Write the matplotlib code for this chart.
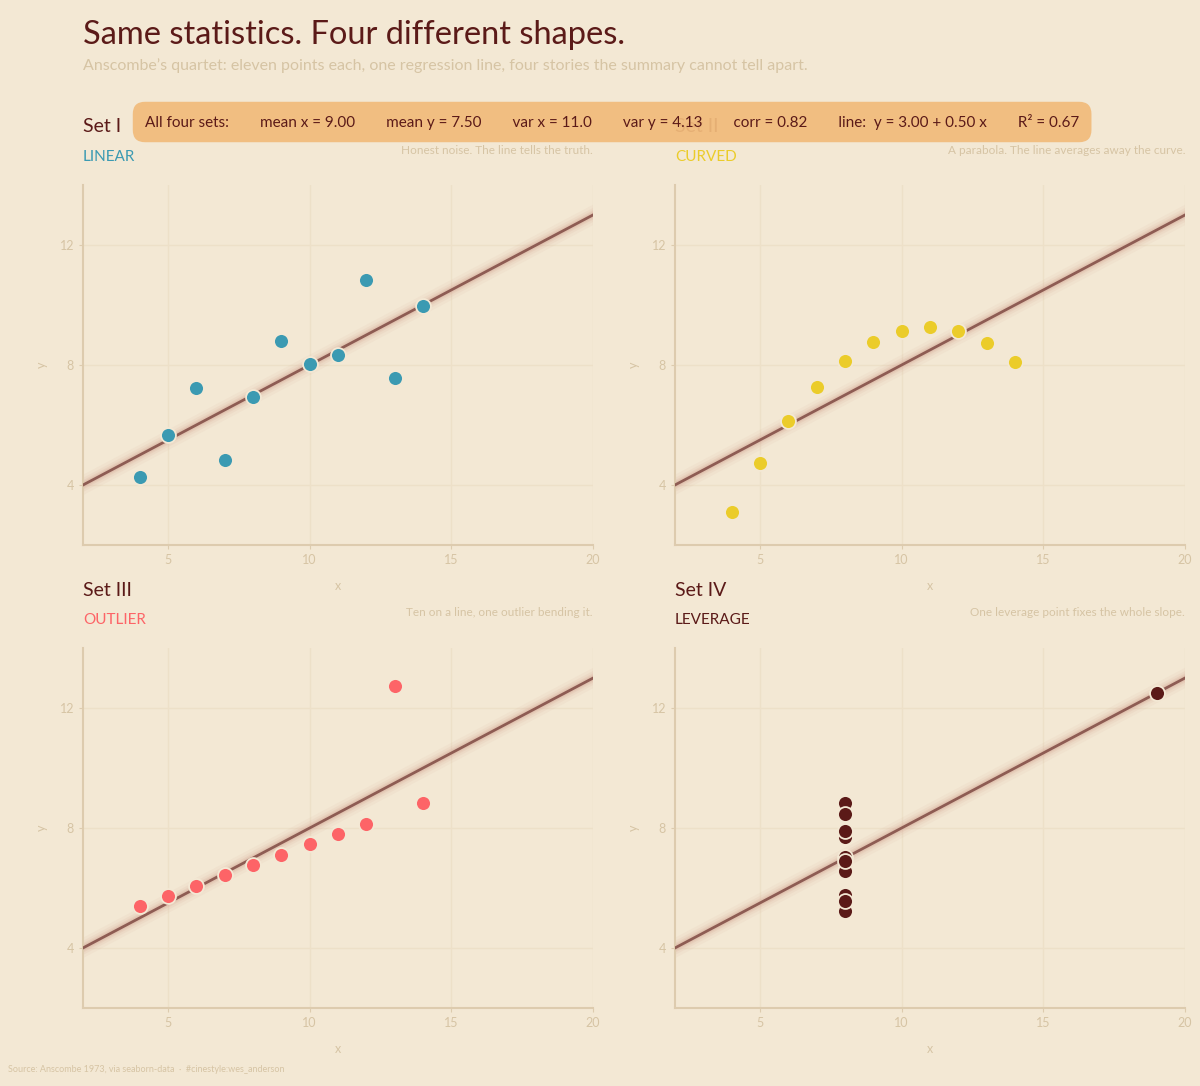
import matplotlib
matplotlib.use("Agg")
import matplotlib.pyplot as plt
import numpy as np

# Anscombe's quartet
x_123 = [10, 8, 13, 9, 11, 14, 6, 4, 12, 7, 5]
y_1 = [8.04, 6.95, 7.58, 8.81, 8.33, 9.96, 7.24, 4.26, 10.84, 4.82, 5.68]
y_2 = [9.14, 8.14, 8.74, 8.77, 9.26, 8.10, 6.13, 3.10, 9.13, 7.26, 4.74]
y_3 = [7.46, 6.77, 12.74, 7.11, 7.81, 8.84, 6.08, 5.39, 8.15, 6.42, 5.73]
x_4 = [8, 8, 8, 8, 8, 8, 8, 19, 8, 8, 8]
y_4 = [6.58, 5.76, 7.71, 8.84, 8.47, 7.04, 5.25, 12.50, 5.56, 7.91, 6.89]

set_names = ["Set I", "Set II", "Set III", "Set IV"]
kinds = ["LINEAR", "CURVED", "OUTLIER", "LEVERAGE"]
notes = ["Honest noise. The line tells the truth.",
         "A parabola. The line averages away the curve.",
         "Ten on a line, one outlier bending it.",
         "One leverage point fixes the whole slope."]
colors = ["#3B9AB2", "#EBCC2A", "#FD6467", "#5B1A18"]
xs = [x_123, x_123, x_123, x_4]
ys = [y_1, y_2, y_3, y_4]

stats = ["All four sets:", "mean x = 9.00", "mean y = 7.50", "var x = 11.0",
         "var y = 4.13", "corr = 0.82", "line:  y = 3.00 + 0.50 x", "R\u00b2 = 0.67"]

BG = "#F3E8D4"
DARK = "#5B1A18"
TAN = "#D6C4A4"
FONT = ["Lato", "DejaVu Sans"]
plt.rcParams["font.family"] = FONT

fig = plt.figure(figsize=(12, 10.86), dpi=100, facecolor=BG)

W, H = 1200, 1086
lefts = [83, 675, 83, 675]
tops = [185, 185, 648, 648]
aw, ah = 510, 360

for i in range(4):
    ax = fig.add_axes([lefts[i] / W, 1 - (tops[i] + ah) / H, aw / W, ah / H])
    ax.set_facecolor(BG)
    ax.set_xlim(2, 20)
    ax.set_ylim(2, 14)
    ax.set_xticks([5, 10, 15, 20])
    ax.set_yticks([4, 8, 12])
    ax.grid(True, color="#EDE0C8", linewidth=1)
    ax.set_axisbelow(True)
    for s in ["top", "right"]:
        ax.spines[s].set_visible(False)
    for s in ["left", "bottom"]:
        ax.spines[s].set_color("#DDCBAE")
        ax.spines[s].set_linewidth(1.5)
    ax.tick_params(colors="#DDCBAE", labelsize=9, length=3, labelcolor=TAN)
    ax.set_xlabel("x", color=TAN, fontsize=9, labelpad=10)
    ax.set_ylabel("y", color=TAN, fontsize=9, labelpad=8)

    m, b = np.polyfit(xs[i], ys[i], 1)
    for lw, a in [(13, 0.10), (9, 0.14), (6, 0.22), (4, 0.3)]:
        ax.axline((0, b), slope=m, color="#D9AE9C", linewidth=lw, alpha=a, zorder=2)
    ax.axline((0, b), slope=m, color="#8E5C53", linewidth=2, zorder=3)
    ax.scatter(xs[i], ys[i], s=115, color=colors[i], edgecolors=BG,
               linewidths=1.3, zorder=4)

    x0 = lefts[i] / W
    x1 = (lefts[i] + aw) / W
    ytop = tops[i]
    fig.text(x0, 1 - (ytop - 58) / H, set_names[i], color=DARK, fontsize=14,
             ha="left", va="center", zorder=1)
    fig.text(x0, 1 - (ytop - 28) / H, kinds[i], color=colors[i], fontsize=11,
             ha="left", va="center")
    fig.text(x1, 1 - (ytop - 35) / H, notes[i], color=TAN, fontsize=8.5,
             ha="right", va="center")

fig.text(83 / W, 1 - 35 / H, "Same statistics. Four different shapes.",
         color=DARK, fontsize=23.5, ha="left", va="center")
fig.text(83 / W, 1 - 66 / H,
         "Anscombe\u2019s quartet: eleven points each, one regression line, four stories the summary cannot tell apart.",
         color=TAN, fontsize=11.5, ha="left", va="center")

fig.text(145 / W, 1 - 122 / H, "        ".join(stats), color=DARK, fontsize=11,
         ha="left", va="center", zorder=10,
         bbox=dict(boxstyle="round,pad=0.8,rounding_size=0.8", facecolor="#F1BB7B",
                   edgecolor="none", alpha=0.93))

fig.text(8 / W, 1 - 1070 / H,
         "Source: Anscombe 1973, via seaborn-data  \u00b7  #cinestyle:wes_anderson",
         color=TAN, fontsize=6.5, ha="left", va="center")

fig.savefig("out.png", dpi=100, facecolor=BG)
